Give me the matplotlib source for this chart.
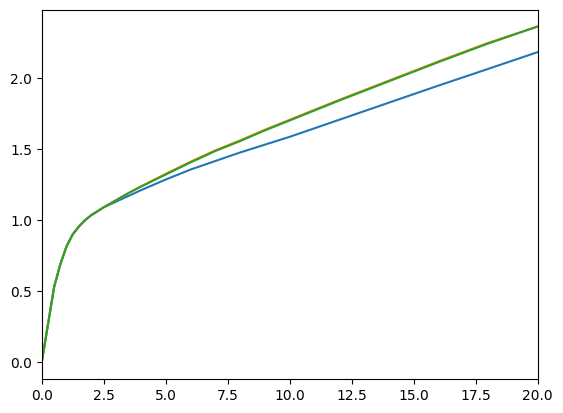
import matplotlib
matplotlib.use('Agg')
import matplotlib.pyplot as plt

# values
x = [0, 0.5, 0.75, 1.0, 1.25, 1.5, 1.75, 2.0, 2.5, 3, 3.5, 4, 5, 6, 7, 8, 9,
     10, 12, 14, 16, 18, 20]
blue = [0, 0.53, 0.69, 0.815, 0.9, 0.955, 1.0, 1.035, 1.09, 1.13, 1.17, 1.21,
        1.285, 1.355, 1.415, 1.475, 1.53, 1.585, 1.705, 1.825, 1.945, 2.062, 2.18]
orange = [0, 0.53, 0.69, 0.815, 0.9, 0.955, 1.0, 1.035, 1.09, 1.14, 1.19, 1.237,
          1.325, 1.41, 1.49, 1.56, 1.635, 1.705, 1.845, 1.98, 2.115, 2.245, 2.36]
green = [0, 0.53, 0.69, 0.815, 0.9, 0.955, 1.0, 1.035, 1.09, 1.14, 1.19, 1.235,
         1.32, 1.405, 1.485, 1.555, 1.63, 1.70, 1.84, 1.975, 2.11, 2.24, 2.36]

fig, ax = plt.subplots(figsize=(6.4, 4.8), dpi=100)
ax.plot(x, blue)
ax.plot(x, orange)
ax.plot(x, green)
ax.set_xlim(0, 20)

fig.savefig('out.png', bbox_inches='tight')
